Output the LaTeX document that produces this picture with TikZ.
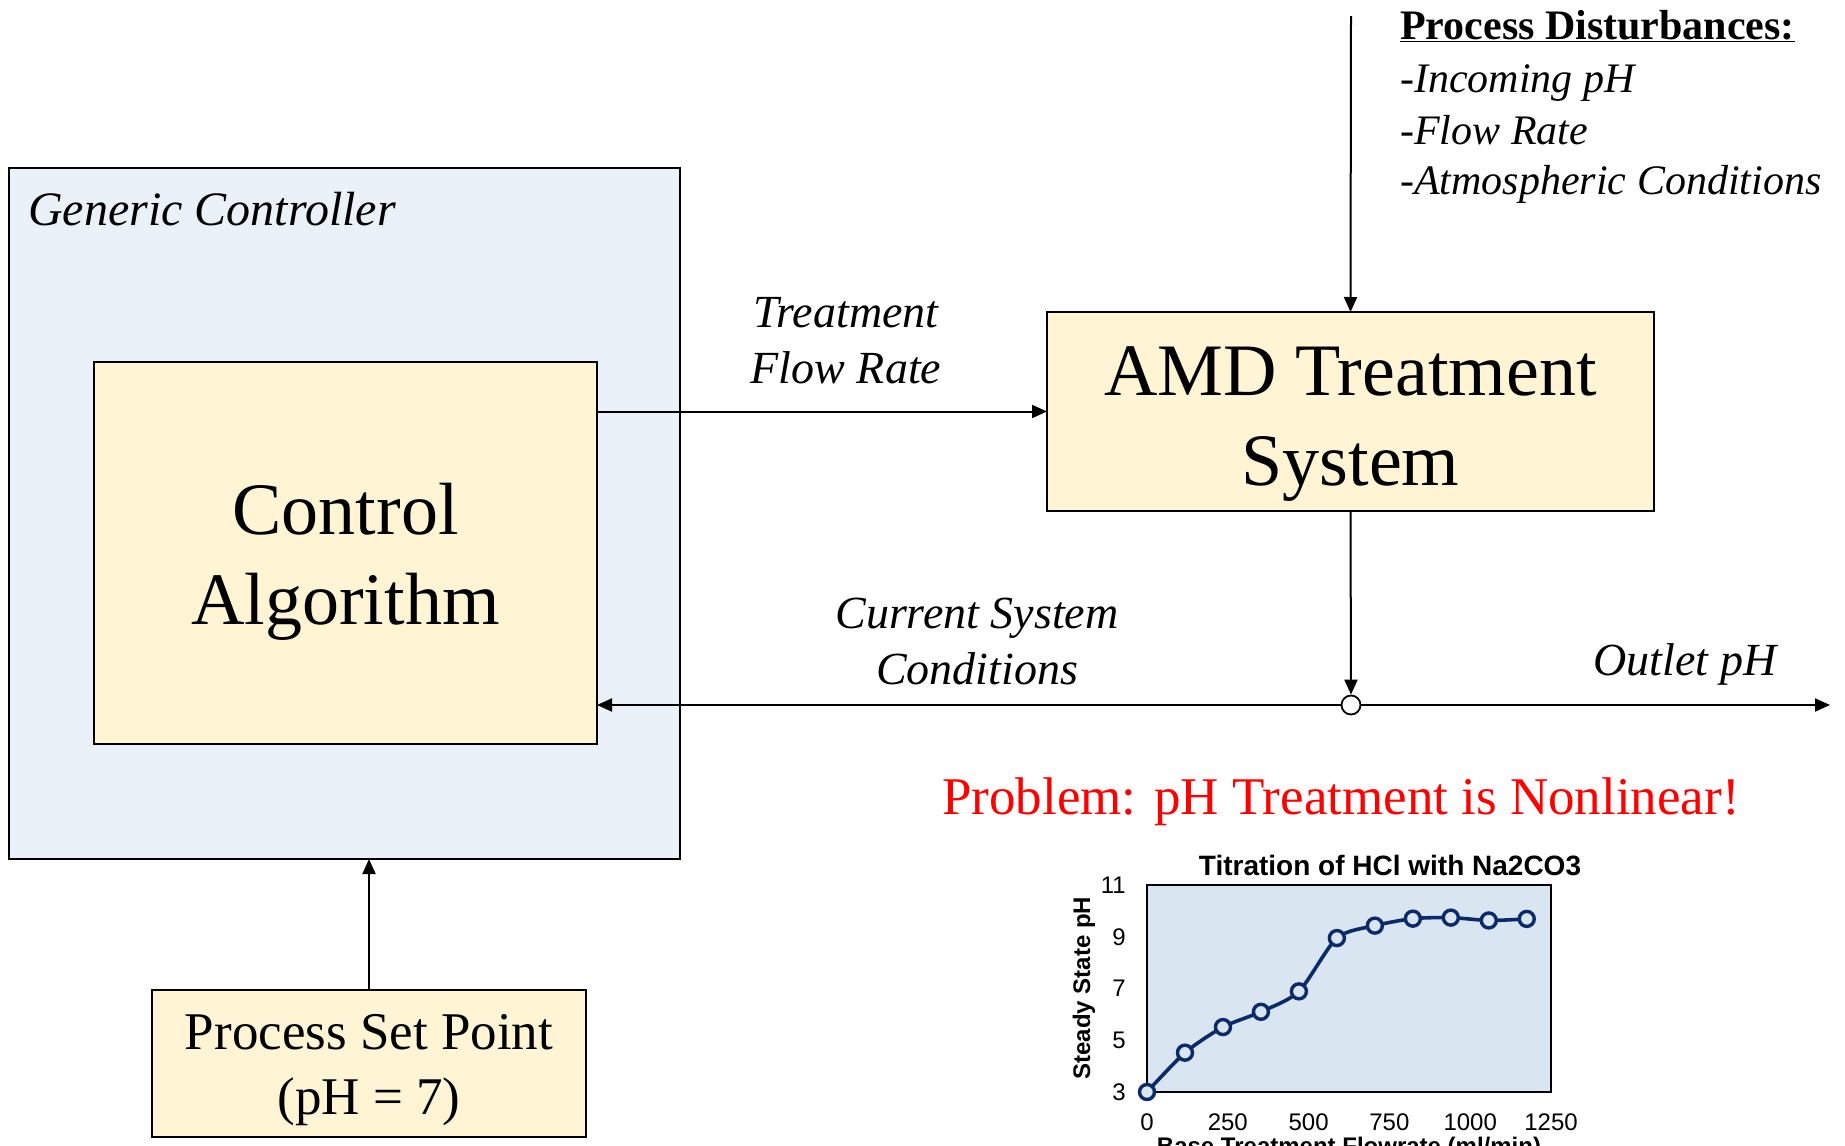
\documentclass[tikz,border=0pt]{standalone}
\usepackage{fontspec}
\setmainfont{Liberation Serif}
\newfontfamily\arialf{Liberation Sans}
\usetikzlibrary{arrows.meta}
\definecolor{gcblue}{HTML}{EAF1F8}
\definecolor{boxyel}{HTML}{FFF5D4}
\definecolor{plotbg}{HTML}{D9E5F0}
\definecolor{navy}{HTML}{0B2A6B}
\definecolor{probred}{HTML}{FF0000}
\tikzset{
  blk/.style={draw=black, line width=1.6pt, inner sep=0pt, outer sep=0pt, align=center},
  yelbox/.style={blk, fill=boxyel},
  bluebox/.style={blk, fill=gcblue},
  conn/.style={line width=2pt, -{Triangle[length=15pt,width=13pt]}},
  bigtxt/.style={font=\fontsize{74}{90}\selectfont},
  lbl/.style={font=\itshape\fontsize{46}{56}\selectfont, align=center, inner sep=0pt},
  distl/.style={font=\itshape\fontsize{42}{50}\selectfont, anchor=west, inner sep=0pt},
  ticklbl/.style={font=\arialf\fontsize{24}{28}\selectfont, inner sep=0pt},
  axtitle/.style={font=\arialf\bfseries\fontsize{24}{28}\selectfont, inner sep=0pt}
}
\begin{document}
\begin{tikzpicture}[x=1pt,y=-1pt]
\useasboundingbox (0,0) rectangle (1845,1146);

% boxes
\node[bluebox, minimum width=671pt, minimum height=691pt] (gc) at (344.5,513.5) {};
\node[lbl, anchor=west, font=\itshape\fontsize{48}{56}\selectfont] (gct) at (28,209) {Generic Controller};
\node[yelbox, minimum width=503pt, minimum height=382pt] (ca) at (345.5,553) {};
\node[bigtxt, align=center, inner sep=0pt] (cat) at (345.5,562) {Control\\Algorithm};
\node[yelbox, minimum width=607pt, minimum height=199pt] (amd) at (1350.5,411.5) {};
\node[bigtxt, align=center, inner sep=0pt] (amdt) at (1350.5,424) {AMD Treatment\\System};
\node[yelbox, minimum width=434pt, minimum height=147pt] (sp) at (369,1063.5) {};
\node[font=\fontsize{53}{65}\selectfont, align=center, inner sep=0pt] (spt) at (369,1070) {Process Set Point\\(pH = 7)};

% junction
\node[circle, draw=black, fill=white, line width=1.8pt, minimum size=19pt, inner sep=0pt] (j) at (1351,705) {};
\coordinate (dtop) at (1351,16);
\coordinate (outend) at (1830,705);

% connectors
\draw[conn] (dtop) -- (amd.north);
\draw[conn] (amd.west -| ca.east) -- (amd.west);
\draw[conn] (amd.south) -- (j.north);
\draw[conn] (j.west) -- (j.west -| ca.east);
\draw[conn] (j.east) -- (outend);
\draw[conn] (sp.north) -- (sp.north |- gc.south);

% labels
\node[lbl] (tfr) at (846,341) {Treatment\\Flow Rate};
\node[lbl] (csc) at (977,641) {Current System\\Conditions};
\node[lbl] (oph) at (1685,664) {Outlet pH};
\node[distl, font=\bfseries\fontsize{42}{50}\selectfont] (pd0) at (1400,26) {\underline{Process Disturbances:}};
\node[distl] (pd1) at (1400,83) {-Incoming pH};
\node[distl] (pd2) at (1400,130) {-Flow Rate};
\node[distl] (pd3) at (1400,184) {-Atmospheric Conditions};
\node[font=\fontsize{53}{62}\selectfont, text=probred, inner sep=0pt] (prob) at (1341,802) {Problem: pH Treatment is Nonlinear!};

% chart
\node[axtitle, font=\arialf\bfseries\fontsize{28}{32}\selectfont] (ctitle) at (1390,866) {Titration of HCl with Na2CO3};
\node[axtitle, rotate=90] (ytitle) at (1084,988) {Steady State pH};
\node[axtitle, anchor=north] (xtitle) at (1349,1137) {Base Treatment Flowrate (ml/min)};
\begin{scope}[shift={(1147,1092)}, x=0.3232pt, y=25.875pt]
  \draw[fill=plotbg, line width=1.5pt] (0,0) rectangle (1250,8);
  \foreach \v in {0,250,500,750,1000,1250}
    \node[ticklbl, yshift=-30pt] at (\v,0) {\v};
  \foreach \v in {3,5,7,9,11}
    \node[ticklbl, anchor=east, xshift=-21pt] at (0,\v-3) {\v};
  \draw[navy, line width=3.6pt, line join=round] plot[smooth, tension=0.45] coordinates {
    (0,0) (117.5,1.52) (235,2.51) (352.5,3.10) (470,3.89) (587.5,5.95)
    (705,6.43) (822.5,6.70) (940,6.74) (1057.5,6.63) (1175,6.69)};
  \foreach \xx/\yy in {0/0,117.5/1.52,235/2.51,352.5/3.10,470/3.89,587.5/5.95,705/6.43,822.5/6.70,940/6.74,1057.5/6.63,1175/6.69}
    \draw[navy, line width=3.4pt, fill=plotbg] (\xx,\yy) circle[radius=7.5pt];
\end{scope}
\end{tikzpicture}
\end{document}
